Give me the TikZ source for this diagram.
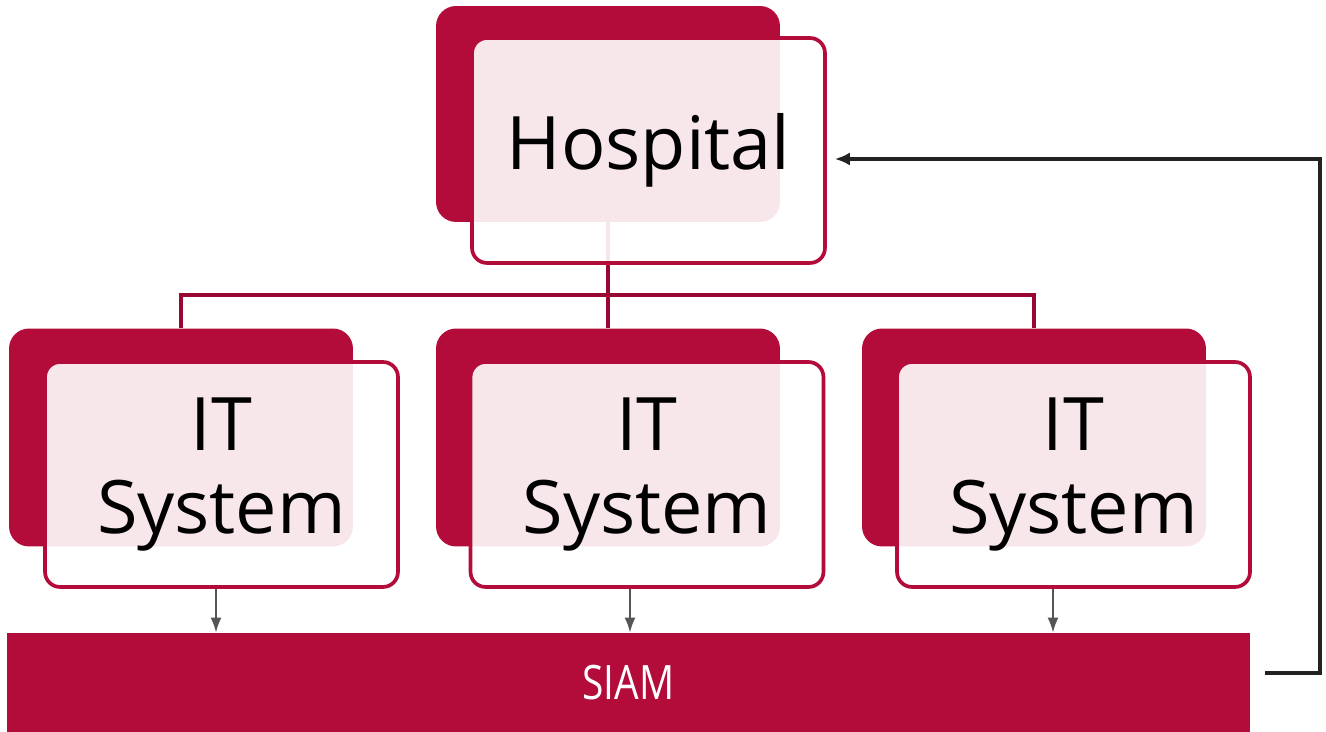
\documentclass[tikz,border=0pt]{standalone}
\usepackage{fontspec}
\setmainfont{Open Sans}
\usetikzlibrary{arrows.meta}
\definecolor{bred}{HTML}{B30B3A}
\definecolor{lred}{HTML}{990733}
\definecolor{agray}{HTML}{555555}
\definecolor{fblack}{HTML}{222222}
\tikzset{
  backbox/.style={fill=bred, draw=none, rounded corners=0.4cm, minimum width=6.88cm, minimum height=4.36cm, inner sep=0pt},
  frontbox/.style={draw=bred, line width=2.1pt, fill=white, fill opacity=0.9, text opacity=1, rounded corners=0.3cm,
     minimum width=7.06cm, minimum height=4.5cm, inner sep=0pt, align=center,
     font=\fontsize{42}{47}\selectfont},
  tree/.style={draw=lred, line width=2.4pt},
  down/.style={draw=agray, line width=1.2pt, -{Latex[length=0.3cm,width=0.22cm]}},
  feedback/.style={draw=fblack, line width=2.1pt, -{Latex[length=0.3cm,width=0.26cm]}},
}
\begin{document}
\begin{tikzpicture}[x=0.02cm,y=-0.02cm]
\useasboundingbox (0,0) rectangle (1326,732);
% back rectangles
\node[backbox, minimum height=4.32cm] (hb) at (608,114) {};
\node[backbox] (b1) at (181,437.5) {};
\node[backbox] (b2) at (608,437.5) {};
\node[backbox] (b3) at (1034,437.5) {};
% tree connectors
\coordinate (tl) at (181,295);
\coordinate (tr) at (1034,295);
\draw[tree] (hb.south) -- (b2.north);
\draw[tree] (b1.north) -- (tl) -- (tr) -- (b3.north);
% front boxes
\node[frontbox] (hf) at (648.5,150.5) {Hospital};
\node[frontbox] (f1) at (221.5,474.5) {IT\\System};
\node[frontbox] (f2) at (647,474.5) {IT\\System};
\node[frontbox] (f3) at (1073.5,474.5) {IT\\System};
% SIAM bar
\node[fill=bred, minimum width=24.86cm, minimum height=1.98cm, inner sep=0pt, text=white,
      font=\fontsize{27}{30}\selectfont] (siam) at (628.5,682.5) {\scalebox{0.82}[1]{SIAM}};
% arrows down
\draw[down] ([xshift=-0.11cm]f1.south) -- ([xshift=-0.11cm]f1.south |- siam.north);
\draw[down] ([xshift=-0.34cm]f2.south) -- ([xshift=-0.34cm]f2.south |- siam.north);
\draw[down] ([xshift=-0.41cm]f3.south) -- ([xshift=-0.41cm]f3.south |- siam.north);
% feedback
\coordinate (fbs) at (1265,673);
\coordinate (fbc1) at (1320,673);
\coordinate (fbc2) at (1320,159);
\draw[feedback] (fbs) -- (fbc1) -- (fbc2) -- ([shift={(8,8.5)}]hf.east);
\end{tikzpicture}
\end{document}
